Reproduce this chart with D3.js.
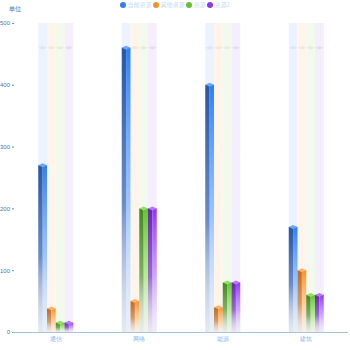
<!DOCTYPE html>
<html><head><meta charset="utf-8">
<script src="https://cdn.jsdelivr.net/npm/d3@7/dist/d3.min.js"></script>
<style>
html,body{margin:0;padding:0;background:#fff;}
svg{display:block;font-family:"Noto Sans CJK SC","Noto Sans",sans-serif;}
</style></head>
<body><svg id="c" width="350" height="350"></svg>
<script>
const categories = ["通信","网络","能源","建筑"];
const seriesNames = ["当前资源","其他资源","资源","资源2"];
const current = [270, 460, 400, 170];
const other = [38, 50, 40, 100];
const res1 = [15, 200, 80, 60];
const res2 = [15, 200, 80, 60];
const yTicks = [0,100,200,300,400,500];
const colors = ["#2f7ef5","#f6922c","#62c32f","#9136f0"];
const darkColors = ["#2556a8","#c26a1c","#3f8a1c","#6a22b8"];
const lightColors = ["#6aa8ff","#ffb468","#92e064","#b676ff"];
const bgColors = ["#eaf2fe","#fff3e8","#eff9ea","#f4ecfd"];
const bgCapColors = ["#d9e6fb","#fbe4d2","#dff1d6","#e8dafa"];

const seriesData = [current, other, res1, res2];

const svg = d3.select("#c");
const y = d3.scaleLinear().domain([0,500]).range([332,23]);
const x0 = d3.scaleBand().domain(categories).range([14,348]).padding(0);
const x1 = d3.scaleBand().domain(d3.range(4)).range([x0.bandwidth()/2-17.5, x0.bandwidth()/2+17.5]).padding(0);
const bw = x1.bandwidth();
const maxVal = d3.max(seriesData.flat());

const defs = svg.append("defs");
seriesData.forEach((s,i)=>{
  const gl = defs.append("linearGradient").attr("id","gl"+i).attr("x1",0).attr("y1",0).attr("x2",0).attr("y2",1);
  gl.append("stop").attr("offset","0%").attr("stop-color",darkColors[i]).attr("stop-opacity",1);
  gl.append("stop").attr("offset","55%").attr("stop-color",darkColors[i]).attr("stop-opacity",0.65);
  gl.append("stop").attr("offset","100%").attr("stop-color","#c9ced6").attr("stop-opacity",0.25);
  const gr = defs.append("linearGradient").attr("id","gr"+i).attr("x1",0).attr("y1",0).attr("x2",0).attr("y2",1);
  gr.append("stop").attr("offset","0%").attr("stop-color",colors[i]).attr("stop-opacity",1);
  gr.append("stop").attr("offset","55%").attr("stop-color",lightColors[i]).attr("stop-opacity",0.6);
  gr.append("stop").attr("offset","100%").attr("stop-color","#dde2e8").attr("stop-opacity",0.2);
});

// background columns
const groups = svg.selectAll("g.grp").data(categories).join("g")
  .attr("transform",d=>`translate(${x0(d)},0)`);
groups.each(function(cat,ci){
  const g = d3.select(this);
  seriesData.forEach((s,i)=>{
    const bx = x1(i);
    g.append("rect").attr("x",bx).attr("y",y(500)).attr("width",bw).attr("height",y(0)-y(500))
      .attr("fill",bgColors[i]).attr("opacity",0.9);
    const cy = y(maxVal);
    g.append("path").attr("d",`M${bx},${cy} L${bx+bw/2},${cy-1.8} L${bx+bw},${cy} L${bx+bw/2},${cy+1.8}Z`)
      .attr("fill",bgCapColors[i]);
  });
});
groups.each(function(cat,ci){
  const g = d3.select(this);
  seriesData.forEach((s,i)=>{
    const v = s[ci];
    const bx = x1(i);
    const top = y(v);
    g.append("rect").attr("x",bx).attr("y",top).attr("width",bw/2).attr("height",y(0)-top).attr("fill",`url(#gl${i})`);
    g.append("rect").attr("x",bx+bw/2).attr("y",top).attr("width",bw/2).attr("height",y(0)-top).attr("fill",`url(#gr${i})`);
    g.append("path").attr("d",`M${bx},${top} L${bx+bw/2},${top-2} L${bx+bw},${top} L${bx+bw/2},${top+2}Z`)
      .attr("fill",lightColors[i]);
  });
});

// y axis
const yAxis = d3.axisLeft(y).tickValues(yTicks).tickSize(2).tickPadding(2);
const ya = svg.append("g").attr("transform","translate(14,0)").call(yAxis);
ya.select(".domain").remove();
ya.selectAll("line").attr("stroke","#6b8fb8");
ya.selectAll("text").attr("fill","#4d78a8").style("font-size","6px");

// x axis
const xa = svg.append("g").attr("transform","translate(0,332)").call(d3.axisBottom(x0).tickSize(0).tickPadding(5));
xa.select(".domain").attr("stroke","#a9c1d9").attr("stroke-width",1).attr("d","M13,0.5H348");
xa.selectAll("text").attr("fill","#86b6ee").style("font-size","6px");

// unit label
svg.append("text").attr("x",9).attr("y",11).text("单位").attr("fill","#5a80ab").style("font-size","6px");

// legend
const legendX = [123,156,189,210];
seriesNames.forEach((n,i)=>{
  svg.append("circle").attr("cx",legendX[i]).attr("cy",5).attr("r",3).attr("fill",colors[i]);
  svg.append("text").attr("x",legendX[i]+4.5).attr("y",7.2).text(n).attr("fill","#c5dbf5").style("font-size","6px");
});
</script></body></html>
